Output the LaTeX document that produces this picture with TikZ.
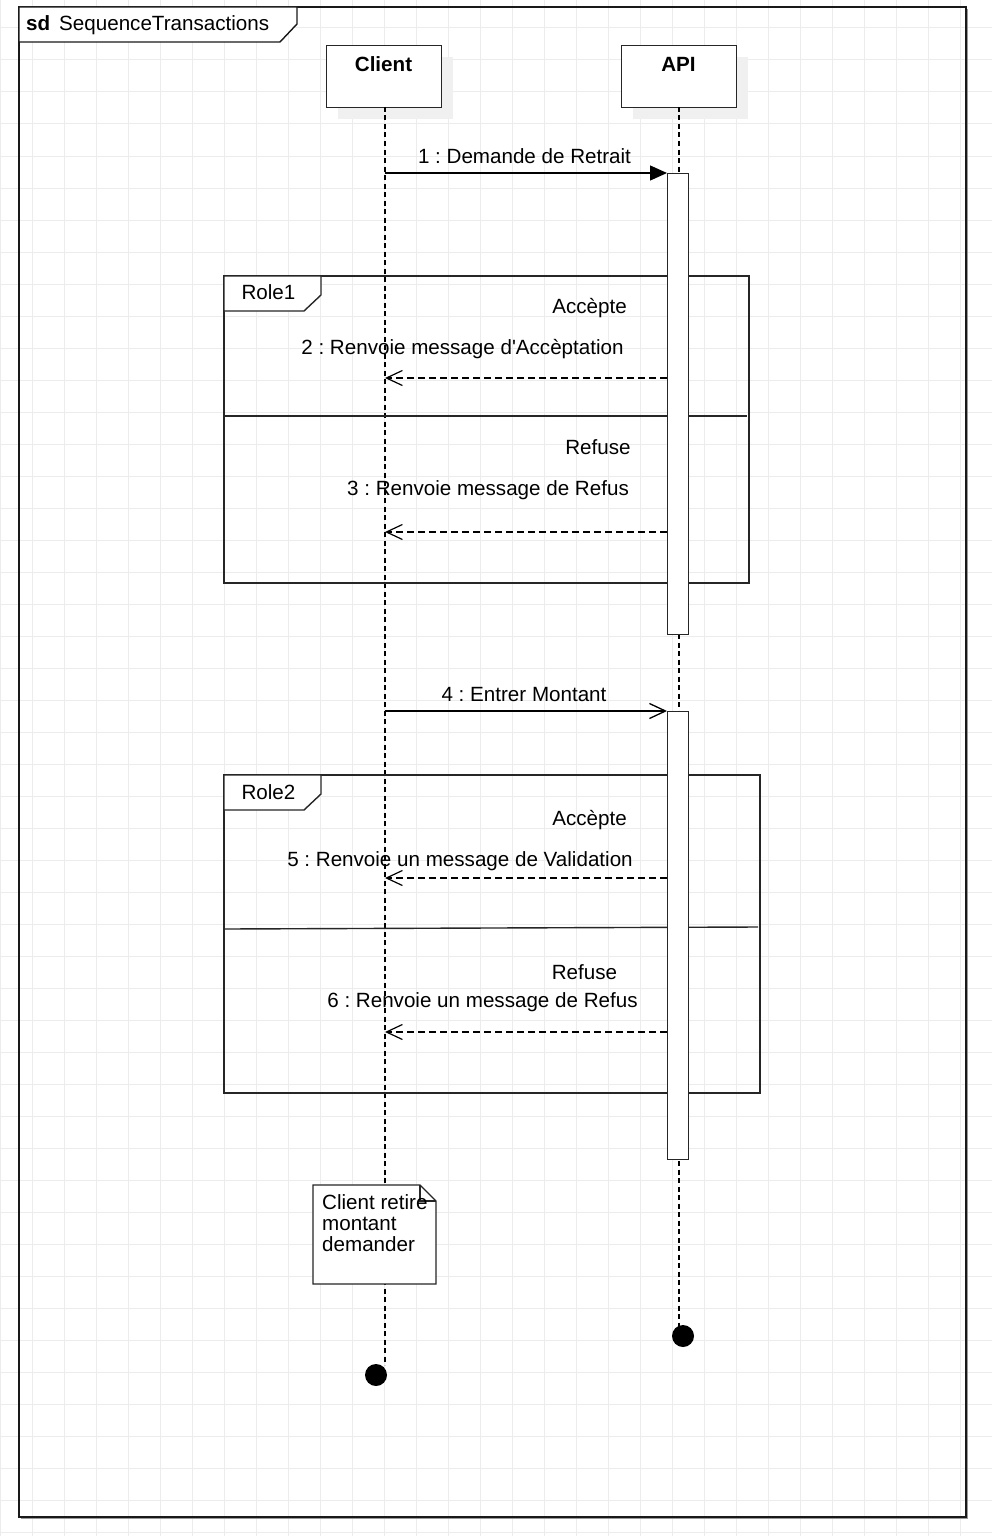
\documentclass[tikz,border=0pt]{standalone}
\usepackage{fontspec}
\setmainfont{Liberation Sans}[Ligatures=TeXOff]
\frenchspacing
\usetikzlibrary{arrows.meta}
\definecolor{gridc}{RGB}{236,236,236}
\definecolor{shadowc}{RGB}{240,240,240}
\begin{document}
\begin{tikzpicture}[x=1pt,y=-1pt,
  gridline/.style={gridc, line width=1pt},
  txt/.style={font=\fontsize{20.6}{21}\selectfont, inner sep=0pt, anchor=base},
  btxt/.style={font=\fontsize{20.6}{21}\selectfont\bfseries, inner sep=0pt, anchor=base},
  framepen/.style={line width=1.4pt, black!90},
  lbox/.style={draw=black!85, line width=1.4pt, fill=white, anchor=north west, inner sep=0pt, minimum width=115pt, minimum height=62pt},
  shadowbox/.style={fill=shadowc, draw=none, anchor=north west, inner sep=0pt, minimum width=115pt, minimum height=62pt},
  actbar/.style={draw=black!85, line width=1.4pt, fill=white, anchor=north west, inner sep=0pt, minimum width=21pt},
  lifeline/.style={line width=1.3pt, dash pattern=on 5pt off 3.5pt},
  syncmsg/.style={line width=1.3pt, -{Triangle[length=17pt,width=15pt]}},
  asyncmsg/.style={line width=1.3pt, -{Straight Barb[length=16pt,width=15pt]}},
  retmsg/.style={line width=1.2pt, dash pattern=on 7pt off 4pt, -{Straight Barb[length=16pt,width=15pt]}},
  fragpen/.style={line width=1.4pt, black!85},
  tabpen/.style={line width=1.4pt, black!85, fill=white},
  enddot/.style={circle, fill=black, draw=none, minimum size=22pt, inner sep=0pt}
]
\useasboundingbox (0,0) rectangle (992,1536);
% background grid
\fill[white] (0,0) rectangle (992,1536);
\foreach \x in {0,32,...,992} \draw[gridline] (\x,0) -- (\x,1536);
\foreach \y in {28,60,...,1532} \draw[gridline] (0,\y) -- (992,\y);

% outer frame
\draw[black!40, line width=1pt] (967.6,9) -- (967.6,1518.6) -- (21,1518.6);
\draw[framepen] (19,7) rectangle (966,1517);
\draw[framepen, fill=white] (19,7) -- (297,7) -- (297,24) -- (280,42) -- (19,42) -- cycle;
\node[btxt, anchor=base west] (sd) at (26,31) {sd};
\node[txt, anchor=base west] (title) at (59,31) {SequenceTransactions};

% lifeline heads
\node[shadowbox] (clientsh) at (338,57) {};
\node[shadowbox] (apish) at (633,57) {};
\node[lbox] (client) at (326,45) {};
\node[lbox] (api) at (621,45) {};
\node[btxt] (clientlbl) at (383.5,72) {Client};
\node[btxt] (apilbl) at (678.5,72) {API};

% end dots
\node[enddot] (clientend) at (376,1375) {};
\node[enddot] (apiend) at (683,1336) {};

% lifelines
\coordinate (cl0) at (385,107);
\coordinate (cl1) at (385,1365);
\coordinate (al0) at (679,107);
\coordinate (al1) at (679,1326);
\draw[lifeline] (cl0) -- (cl1);
\draw[lifeline] (al0) -- (al1);

% combined fragment Role1
\draw[fragpen] (224,276) rectangle (749,583);
\draw[fragpen] (224,416) -- (747,416);
\draw[tabpen] (224,276) -- (321,276) -- (321,295) -- (304,311) -- (224,311) -- cycle;
\node[txt] (role1) at (268.5,299) {Role1};

% combined fragment Role2
\draw[fragpen] (224,775) rectangle (760,1093);
\draw[fragpen] (224,929) -- (758,927);
\draw[tabpen] (224,775) -- (321,775) -- (321,794) -- (304,810) -- (224,810) -- cycle;
\node[txt] (role2) at (268.5,799) {Role2};

% activation bars
\node[actbar, minimum height=461pt] (act1) at (667,173) {};
\node[actbar, minimum height=448pt] (act2) at (667,711) {};

% messages
\coordinate (m1s) at (385,173);
\draw[syncmsg] (m1s) -- (act1.north west);
\node[txt] (m1l) at (524.5,163) {1 : Demande de Retrait};

\coordinate (m2s) at (667,378);
\coordinate (m2e) at (385,378);
\draw[retmsg] (m2s) -- (m2e);
\node[txt] (g1a) at (589.5,313) {Accèpte};
\node[txt] (m2l) at (462.5,354) {2 : Renvoie message d'Accèptation};

\coordinate (m3s) at (667,532);
\coordinate (m3e) at (385,532);
\draw[retmsg] (m3s) -- (m3e);
\node[txt] (g1b) at (598,454) {Refuse};
\node[txt] (m3l) at (488,495) {3 : Renvoie message de Refus};

\coordinate (m4s) at (385,711);
\draw[asyncmsg] (m4s) -- (act2.north west);
\node[txt] (m4l) at (524,701) {4 : Entrer Montant};

\coordinate (m5s) at (667,878);
\coordinate (m5e) at (385,878);
\draw[retmsg] (m5s) -- (m5e);
\node[txt] (g2a) at (589.5,825) {Accèpte};
\node[txt] (m5l) at (460,866) {5 : Renvoie un message de Validation};

\coordinate (m6s) at (667,1032);
\coordinate (m6e) at (385,1032);
\draw[retmsg] (m6s) -- (m6e);
\node[txt] (g2b) at (584.5,979) {Refuse};
\node[txt] (m6l) at (482.5,1007) {6 : Renvoie un message de Refus};

% note
\draw[fragpen, fill=white] (313,1185) -- (420,1185) -- (436,1201) -- (436,1284) -- (313,1284) -- cycle;
\draw[line width=1.2pt, black!85] (420,1185) -- (420,1201) -- (436,1201);
\node[txt, anchor=base west] (note1) at (322,1209) {Client retire};
\node[txt, anchor=base west] (note2) at (322,1230) {montant};
\node[txt, anchor=base west] (note3) at (322,1251) {demander};
\end{tikzpicture}
\end{document}
